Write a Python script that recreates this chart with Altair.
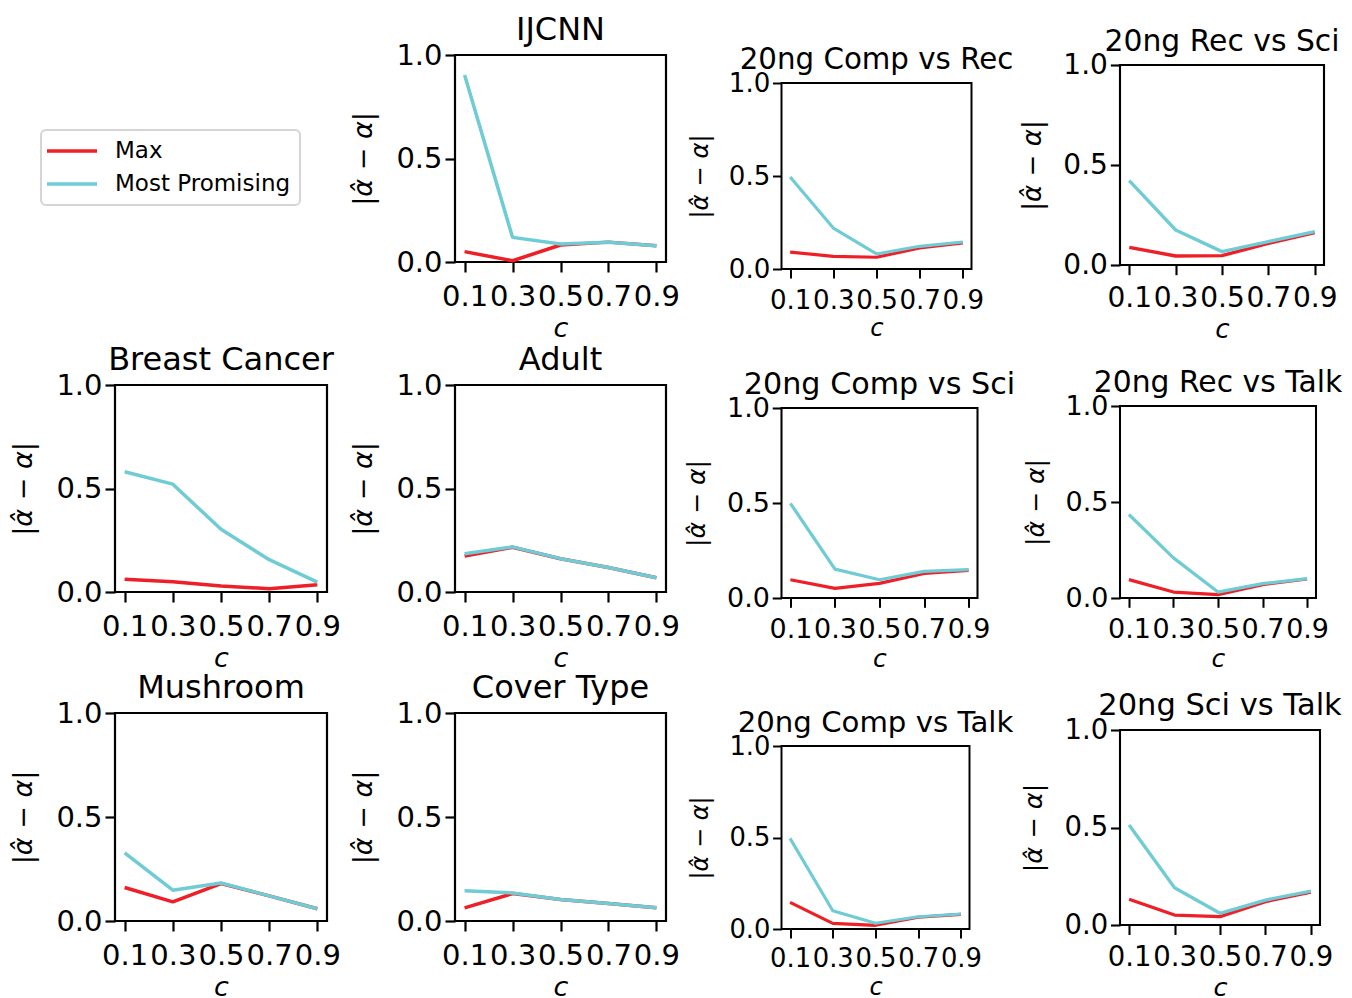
import math
import altair as alt
import pandas as pd

FONT = "DejaVu Sans"

# ---------------- data ----------------
C_VALUES = [0.1, 0.3, 0.5, 0.7, 0.9]
SERIES = ["Max", "Most Promising"]
COLORS = ["#ee1f26", "#6fcbd4"]
Y_TICKS = [0.0, 0.5, 1.0]
Y_TITLE = "|\u03b1\u0302 \u2212 \u03b1|"
X_TITLE = "c"

MAX_IJCNN = [0.050, 0.006, 0.082, 0.096, 0.079]
MP_IJCNN = [0.903, 0.119, 0.087, 0.095, 0.079]
MAX_COMP_REC = [0.091, 0.068, 0.063, 0.113, 0.140]
MP_COMP_REC = [0.495, 0.220, 0.081, 0.122, 0.145]
MAX_REC_SCI = [0.088, 0.045, 0.047, 0.108, 0.162]
MP_REC_SCI = [0.422, 0.175, 0.067, 0.117, 0.167]
MAX_BREAST = [0.061, 0.050, 0.029, 0.016, 0.035]
MP_BREAST = [0.581, 0.521, 0.303, 0.156, 0.048]
MAX_ADULT = [0.174, 0.216, 0.161, 0.118, 0.069]
MP_ADULT = [0.185, 0.218, 0.161, 0.118, 0.069]
MAX_COMP_SCI = [0.096, 0.051, 0.077, 0.129, 0.145]
MP_COMP_SCI = [0.498, 0.152, 0.096, 0.140, 0.149]
MAX_REC_TALK = [0.096, 0.031, 0.017, 0.070, 0.099]
MP_REC_TALK = [0.435, 0.209, 0.031, 0.075, 0.101]
MAX_MUSHROOM = [0.161, 0.092, 0.180, 0.121, 0.059]
MP_MUSHROOM = [0.328, 0.148, 0.183, 0.121, 0.059]
MAX_COVER = [0.063, 0.132, 0.103, 0.084, 0.064]
MP_COVER = [0.145, 0.135, 0.103, 0.084, 0.064]
MAX_COMP_TALK = [0.145, 0.031, 0.020, 0.064, 0.080]
MP_COMP_TALK = [0.495, 0.100, 0.031, 0.067, 0.082]
MAX_SCI_TALK = [0.132, 0.051, 0.043, 0.120, 0.168]
MP_SCI_TALK = [0.513, 0.191, 0.060, 0.128, 0.174]

# ---------------- layout (target plot boxes in page px) ----------------
# name: (top, width, height, scale, title font size)
BOX = {
    "IJCNN": (55, 211, 207, 1.0, 32),
    "20ng Comp vs Rec": (83, 190, 186, 0.90, 29.3),
    "20ng Rec vs Sci": (65, 204, 200, 0.967, 29.8),
    "Breast Cancer": (385, 212, 207, 1.0, 32),
    "Adult": (385, 211, 207, 1.0, 32),
    "20ng Comp vs Sci": (407, 196, 190, 0.929, 30.2),
    "20ng Rec vs Talk": (405, 196, 192, 0.929, 29.8),
    "Mushroom": (713, 212, 208, 1.0, 32),
    "Cover Type": (713, 211, 208, 1.0, 32),
    "20ng Comp vs Talk": (746, 188, 183, 0.89, 29.2),
    "20ng Sci vs Talk": (730, 200, 195, 0.948, 30.5),
}
COL_X = [117, 454, 779.5, 1118]       # plot-left of each column
# right extent of a column / left extent of the next one (axis labels, titles)
COL_RIGHT_EXT = [226, 225, 235]
COL_LEFT_EXT = [105, 98, 102]
SHIFT_X, SHIFT_Y = -4, -1             # measured correction of the outer bounds
BOTTOM_FUDGE = 2                      # measured extra bottom extent of a panel

TICK_FS = 29
AXT_FS = 27


def ext_top(name):
    _, _, _, s, tfs = BOX[name]
    return math.ceil(15 * s + 0.79 * tfs)


def ext_bottom(name):
    _, _, h, s, _ = BOX[name]
    return math.ceil(h + (10 + 10 + TICK_FS + 4 + AXT_FS) * s) + BOTTOM_FUDGE


def panel(title, max_vals, mp_vals):
    _, w, h, s, tfs = BOX[title]
    df = pd.DataFrame({
        "c": C_VALUES + C_VALUES,
        "v": max_vals + mp_vals,
        "series": [SERIES[0]] * len(C_VALUES) + [SERIES[1]] * len(C_VALUES),
    })
    common = dict(
        labelFont=FONT, titleFont=FONT, labelFontSize=TICK_FS * s,
        titleFontSize=AXT_FS * s, titleFontStyle="italic", titleFontWeight="normal",
        labelColor="black", titleColor="black", tickColor="black",
        tickSize=10 * s, tickWidth=2.2 * s, grid=False, domain=False,
        labelOverlap=False, labelFlush=False, format=".1f",
    )
    x = alt.X("c:Q", scale=alt.Scale(domain=[0.06, 0.94], nice=False, zero=False),
              axis=alt.Axis(values=C_VALUES, title=X_TITLE, labelPadding=10 * s,
                            titlePadding=4 * s, **common))
    y = alt.Y("v:Q", scale=alt.Scale(domain=[0, 1], nice=False, zero=False),
              axis=alt.Axis(values=Y_TICKS, title=Y_TITLE, labelPadding=3 * s,
                            titlePadding=18 * s, **common))
    color = alt.Color("series:N", scale=alt.Scale(domain=SERIES, range=COLORS), legend=None)
    offset = 15 * s - TICK_FS * s / 2 - 0.21 * tfs
    return alt.Chart(df).mark_line(strokeWidth=3.5 * s, strokeJoin="round").encode(
        x=x, y=y, color=color
    ).properties(
        width=w, height=h,
        title=alt.TitleParams(text=title, font=FONT, fontSize=tfs, fontWeight="normal",
                              color="black", anchor="middle", frame="group",
                              baseline="top", offset=offset, limit=2000),
        view=alt.ViewBackground(stroke="black", strokeWidth=2.2 * s, fill="white"),
    )


def spacer(hgt):
    return alt.Chart(pd.DataFrame({"z": [0]})).mark_point(size=0, strokeWidth=0, opacity=0).encode(
        x=alt.value(0), y=alt.value(0)
    ).properties(width=1, height=hgt, view=alt.ViewBackground(stroke="transparent", strokeWidth=0))


def independent(c):
    return c.resolve_scale(color="independent").resolve_legend(color="independent")


def vstack(charts, gaps):
    if len(charts) == 1:
        return charts[0]
    inner = vstack(charts[1:], gaps[1:])
    return independent(alt.VConcatChart(vconcat=[charts[0], inner], spacing=gaps[0]))


def hstack(charts, gaps):
    if len(charts) == 1:
        return charts[0]
    inner = hstack(charts[1:], gaps[1:])
    return independent(alt.HConcatChart(hconcat=[charts[0], inner], spacing=gaps[0]))


# global origin: top of the spacer row (first-row items share origin y)
FIRST_SPACER = 1
YG = BOX["IJCNN"][0] - FIRST_SPACER - ext_top("IJCNN")

p = {
    "IJCNN": panel("IJCNN", MAX_IJCNN, MP_IJCNN),
    "20ng Comp vs Rec": panel("20ng Comp vs Rec", MAX_COMP_REC, MP_COMP_REC),
    "20ng Rec vs Sci": panel("20ng Rec vs Sci", MAX_REC_SCI, MP_REC_SCI),
    "Breast Cancer": panel("Breast Cancer", MAX_BREAST, MP_BREAST),
    "Adult": panel("Adult", MAX_ADULT, MP_ADULT),
    "20ng Comp vs Sci": panel("20ng Comp vs Sci", MAX_COMP_SCI, MP_COMP_SCI),
    "20ng Rec vs Talk": panel("20ng Rec vs Talk", MAX_REC_TALK, MP_REC_TALK),
    "Mushroom": panel("Mushroom", MAX_MUSHROOM, MP_MUSHROOM),
    "Cover Type": panel("Cover Type", MAX_COVER, MP_COVER),
    "20ng Comp vs Talk": panel("20ng Comp vs Talk", MAX_COMP_TALK, MP_COMP_TALK),
    "20ng Sci vs Talk": panel("20ng Sci vs Talk", MAX_SCI_TALK, MP_SCI_TALK),
}


def column_from(first_chart, first_bottom, names):
    """first_chart has its origin at YG and bottom extent first_bottom."""
    charts = [first_chart]
    gaps = []
    origin, bottom = 0, first_bottom
    for n in names:
        target = BOX[n][0] - YG
        g = target - origin - bottom - ext_top(n)
        gaps.append(g)
        origin = origin + bottom + g + ext_top(n)
        bottom = ext_bottom(n)
        charts.append(p[n])
    return vstack(charts, gaps)


def spacer_column(names):
    hs = max(1, BOX[names[0]][0] - YG - ext_top(names[0]))
    return column_from(spacer(hs), hs, names)


# legend holder panel (one point per series: no visible line), plot-left aligned to column 0
legend_h = BOX["Breast Cancer"][0] - YG - ext_top("Breast Cancer")
legend_df = pd.DataFrame({"c": [0.5, 0.5], "v": [0.5, 0.5], "series": SERIES})
legend_panel = alt.Chart(legend_df).mark_line(strokeWidth=3.5).encode(
    x=alt.X("c:Q", axis=None, scale=alt.Scale(domain=[0, 1])),
    y=alt.Y("v:Q", axis=None, scale=alt.Scale(domain=[0, 1])),
    color=alt.Color(
        "series:N", scale=alt.Scale(domain=SERIES, range=COLORS),
        legend=alt.Legend(
            title=None, orient="none", legendX=43 - COL_X[0], legendY=131 - YG,
            symbolType="M-1,0H4", symbolSize=400, symbolStrokeWidth=3.5, symbolOffset=-5,
            labelOffset=46, labelFontSize=23, labelFont=FONT, labelColor="black",
            labelLimit=400, padding=9, rowPadding=9, fillColor="white",
            strokeColor="#d5d5d5", cornerRadius=5,
        ),
    ),
).properties(width=50, height=legend_h,
             view=alt.ViewBackground(stroke="transparent", strokeWidth=0))

col0 = column_from(legend_panel, legend_h, ["Breast Cancer", "Mushroom"])
col1 = spacer_column(["IJCNN", "Adult", "Cover Type"])
col2 = spacer_column(["20ng Comp vs Rec", "20ng Comp vs Sci", "20ng Comp vs Talk"])
col3 = spacer_column(["20ng Rec vs Sci", "20ng Rec vs Talk", "20ng Sci vs Talk"])

h_gaps = [COL_X[i + 1] - COL_X[i] - COL_RIGHT_EXT[i] - COL_LEFT_EXT[i] for i in range(3)]
chart = hstack([col0, col1, col2, col3], h_gaps)

chart = chart.properties(
    padding={"left": max(0, COL_X[0] - 105 - 8 + SHIFT_X), "top": max(0, YG - 8 + SHIFT_Y),
             "right": 0, "bottom": 0},
    background="white",
).configure(font=FONT).configure_legend(strokeWidth=2)

chart.save("out.html", embed_options={"renderer": "svg", "actions": False})
